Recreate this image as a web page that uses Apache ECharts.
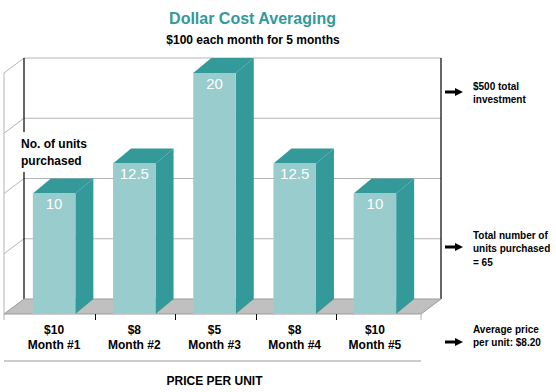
<!DOCTYPE html>
<html>
<head>
<meta charset="utf-8">
<script src="https://cdn.jsdelivr.net/npm/echarts@6/dist/echarts.min.js"></script>
<style>
html,body{margin:0;padding:0;background:#fff;}
#chart{width:556px;height:392px;}
</style>
</head>
<body>
<div id="chart"></div>
<script>
// ---- data ----
const months = ['Month #1', 'Month #2', 'Month #3', 'Month #4', 'Month #5'];
const prices = ['$10', '$8', '$5', '$8', '$10'];
const units = [10, 12.5, 20, 12.5, 10];
const gridTicks = [0, 5, 10, 15, 20];
const notes = [
  { lines: ['$500 total', 'investment'], y: 86, arrowY: 92 },
  { lines: ['Total number of', 'units purchased', '= 65'], y: 235, arrowY: 247 },
  { lines: ['Average price', 'per unit: $8.20'], y: 329, arrowY: 342 }
];

const FONT = '"Liberation Sans", Arial, sans-serif';
const FRONT = '#99CCCC';
const SIDE = '#339999';
const WALL = '#b4b4b4';
// depth offsets
const DX = 20, DY = -15;
const BDX = 18;

const chart = echarts.init(document.getElementById('chart'), null, { renderer: 'svg' });

function frameItem(params, api) {
  const bw = api.size([1, 0])[0];
  const first = api.coord([0, 0]);
  const last = api.coord([units.length - 1, 0]);
  const top = api.coord([0, 20]);
  const x0 = first[0] - bw / 2 - 10;      // front-left floor corner
  const x1 = last[0] + bw / 2 + 6;        // front-right floor corner
  const yb = first[1];                    // floor front y
  const children = [];
  // back wall grid lines + left wall diagonals
  gridTicks.forEach(v => {
    const p = api.coord([0, v]);
    if (v > 0) {
      children.push({ type: 'line', shape: { x1: x0 + DX, y1: p[1] + DY, x2: x1 + DX, y2: p[1] + DY }, style: { stroke: WALL, lineWidth: 1 } });
      children.push({ type: 'line', shape: { x1: x0, y1: p[1], x2: x0 + DX, y2: p[1] + DY }, style: { stroke: WALL, lineWidth: 1 } });
    }
  });
  // left wall vertical
  children.push({ type: 'line', shape: { x1: x0, y1: top[1], x2: x0, y2: yb + 6 }, style: { stroke: WALL, lineWidth: 1 } });
  // black back verticals
  children.push({ type: 'line', shape: { x1: x0 + DX, y1: top[1] + DY, x2: x0 + DX, y2: yb + DY }, style: { stroke: '#000', lineWidth: 1.2 } });
  children.push({ type: 'line', shape: { x1: x1 + DX, y1: top[1] + DY, x2: x1 + DX, y2: yb + DY }, style: { stroke: '#000', lineWidth: 1.2 } });
  // floor
  children.push({ type: 'polygon', shape: { points: [[x0, yb], [x1, yb], [x1 + DX, yb + DY], [x0 + DX, yb + DY]] }, style: { fill: '#c0c0c0', stroke: '#9a9a9a', lineWidth: 1 } });
  // right floor tick
  children.push({ type: 'line', shape: { x1: x1, y1: yb, x2: x1, y2: yb + 6 }, style: { stroke: WALL, lineWidth: 1 } });
  // category separators
  for (let i = 1; i < units.length; i++) {
    const a = api.coord([i - 1, 0])[0], b = api.coord([i, 0])[0];
    const xm = Math.round((a + b) / 2) + 1.5;
    children.push({ type: 'line', shape: { x1: xm, y1: yb, x2: xm, y2: yb + 6 }, style: { stroke: '#000', lineWidth: 1 } });
  }
  // line above axis name
  children.push({ type: 'line', shape: { x1: x0, y1: yb + 47, x2: x1, y2: yb + 47 }, style: { stroke: '#999', lineWidth: 1 } });
  return { type: 'group', children: children };
}

function barItem(params, api) {
  const i = api.value(0);
  const v = api.value(1);
  const c = api.coord([i, v]);
  const b = api.coord([i, 0]);
  const w = api.size([1, 0])[0] * 0.53;
  const xl = c[0] - w / 2, xr = c[0] + w / 2;
  return {
    type: 'group',
    children: [
      { type: 'polygon', shape: { points: [[xr, c[1]], [xr + BDX, c[1] + DY], [xr + BDX, b[1] + DY], [xr, b[1]]] }, style: { fill: SIDE } },
      { type: 'polygon', shape: { points: [[xl, c[1]], [xl + BDX, c[1] + DY], [xr + BDX, c[1] + DY], [xr, c[1]]] }, style: { fill: SIDE } },
      { type: 'rect', shape: { x: xl, y: c[1], width: w, height: b[1] - c[1] }, style: { fill: FRONT } },
      { type: 'text', x: c[0], y: c[1] + 10, style: { text: String(v), fill: '#fff', font: '15px ' + FONT, align: 'center', verticalAlign: 'middle' } }
    ]
  };
}

const graphics = [
  { type: 'text', x: 252.5, y: 18, style: { text: 'Dollar Cost Averaging', fill: SIDE, font: 'bold 16px ' + FONT, align: 'center', verticalAlign: 'middle' } },
  { type: 'text', x: 253, y: 40, style: { text: '$100 each month for 5 months', fill: '#000', font: 'bold 12px ' + FONT, align: 'center', verticalAlign: 'middle' } },
  { type: 'text', left: 17, top: 132, z: 10, style: { text: 'No. of units\npurchased', fill: '#000', font: 'bold 12px ' + FONT, lineHeight: 17, backgroundColor: '#fff', padding: [3, 4, 3, 4] } }
];
notes.forEach(n => {
  n.lines.forEach((t, k) => {
    graphics.push({ type: 'text', x: 473, y: n.y + k * 13.5, style: { text: t, fill: '#000', font: 'bold 10px ' + FONT, align: 'left', verticalAlign: 'middle' } });
  });
  const y = n.arrowY;
  graphics.push({ type: 'polygon', shape: { points: [[445, y - 1.5], [455, y - 1.5], [455, y - 4], [463, y], [455, y + 4], [455, y + 1.5], [445, y + 1.5]] }, style: { fill: '#000' } });
});

chart.setOption({
  animation: false,
  backgroundColor: '#fff',
  grid: { left: 14, right: 141, top: 73, bottom: 75, containLabel: false },
  xAxis: {
    type: 'category',
    data: months,
    axisLine: { show: false },
    axisTick: { show: false },
    axisLabel: {
      margin: 8,
      color: '#000',
      fontFamily: FONT,
      fontWeight: 'bold',
      fontSize: 12,
      lineHeight: 15,
      formatter: (val, idx) => prices[idx] + '\n' + val
    },
    name: 'PRICE PER UNIT',
    nameLocation: 'middle',
    nameGap: 61,
    nameTextStyle: { color: '#000', fontFamily: FONT, fontWeight: 'bold', fontSize: 12 }
  },
  yAxis: {
    type: 'value', min: 0, max: 20, interval: 5,
    show: false, splitLine: { show: false }
  },
  series: [
    { type: 'custom', name: 'frame', data: [[0, 0]], renderItem: frameItem, silent: true, z: 1 },
    { type: 'custom', name: 'units', data: units.map((u, i) => [i, u]), renderItem: barItem, z: 2, encode: { x: 0, y: 1 } }
  ],
  graphic: graphics
});
</script>
</body>
</html>
